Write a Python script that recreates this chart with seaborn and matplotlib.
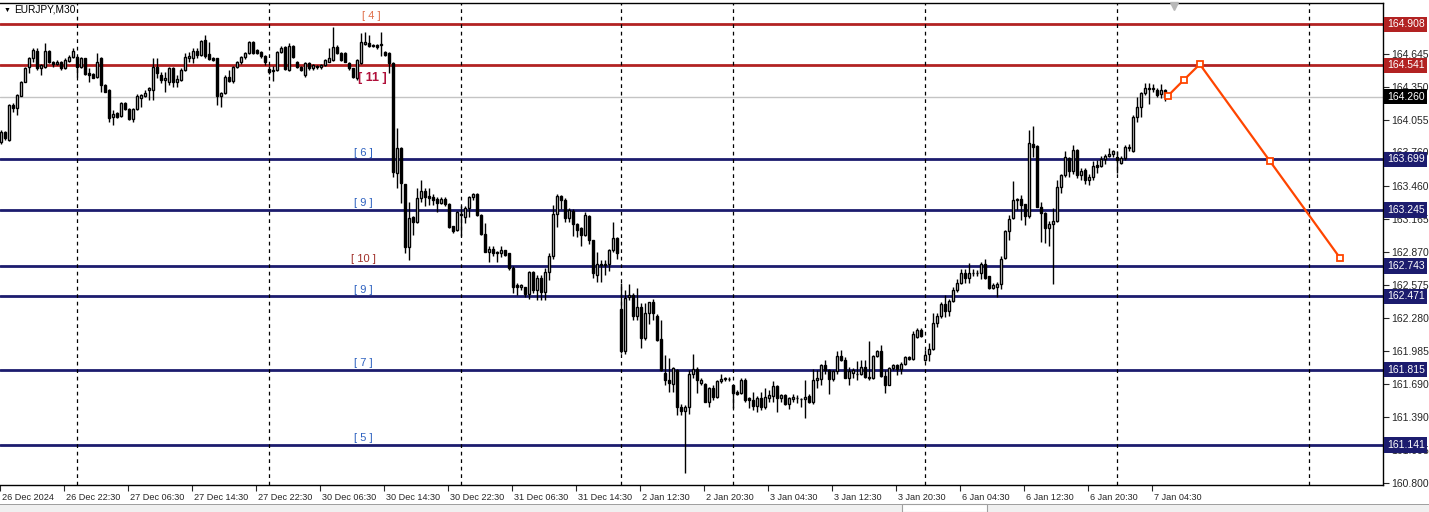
import matplotlib
matplotlib.use("Agg")
import matplotlib.pyplot as plt
import matplotlib.transforms as mtransforms
from matplotlib.patches import Rectangle
import seaborn as sns
import pandas as pd

sns.set_style("white")
plt.rcParams["font.family"] = ["Liberation Sans", "DejaVu Sans"]

# EURJPY M30 candles
opens = [
    163.851, 163.941, 163.872, 164.186, 164.156, 164.269, 164.395, 164.529, 164.603, 164.669,
    164.514, 164.529, 164.669, 164.574, 164.550, 164.568, 164.514, 164.580, 164.618, 164.618,
    164.529, 164.603, 164.469, 164.460, 164.439, 164.609, 164.365, 164.320, 164.081, 164.111,
    164.090, 164.200, 164.150, 164.060, 164.147, 164.251, 164.266, 164.320, 164.320, 164.529,
    164.454, 164.410, 164.395, 164.514, 164.389, 164.410, 164.499, 164.609, 164.609, 164.669,
    164.633, 164.768, 164.639, 164.609, 164.603, 164.265, 164.289, 164.440, 164.400, 164.528,
    164.573, 164.612, 164.647, 164.752, 164.677, 164.662, 164.624, 164.504, 164.490, 164.498,
    164.662, 164.707, 164.498, 164.713, 164.573, 164.528, 164.453, 164.558, 164.513, 164.534,
    164.522, 164.543, 164.573, 164.588, 164.707, 164.653, 164.647, 164.558, 164.513, 164.424,
    164.558, 164.731, 164.737, 164.722, 164.722, 164.722, 164.662, 164.653, 164.558, 163.580,
    163.800, 163.478, 162.910, 163.185, 163.140, 163.349, 163.415, 163.370, 163.364, 163.340,
    163.310, 163.340, 163.300, 163.100, 163.063, 163.210, 163.185, 163.260, 163.360, 163.390,
    163.200, 163.027, 162.870, 162.900, 162.870, 162.857, 162.887, 162.857, 162.730, 162.573,
    162.560, 162.558, 162.490, 162.687, 162.530, 162.640, 162.510, 162.690, 162.830, 163.210,
    163.370, 163.335, 163.170, 163.240, 163.120, 163.080, 163.020, 163.190, 162.976, 162.660,
    162.760, 162.750, 162.760, 162.887, 162.990, 162.356, 161.986, 162.470, 162.484, 162.300,
    162.380, 162.100, 162.320, 162.420, 162.300, 162.087, 161.790, 161.723, 161.690, 161.813,
    161.480, 161.445, 161.484, 161.780, 161.820, 161.700, 161.690, 161.530, 161.650, 161.570,
    161.710, 161.735, 161.730, 161.678, 161.620, 161.610, 161.720, 161.560, 161.540, 161.490,
    161.560, 161.480, 161.560, 161.580, 161.670, 161.560, 161.590, 161.510, 161.550, 161.560,
    161.550, 161.550, 161.580, 161.530, 161.720, 161.730, 161.860, 161.810, 161.730, 161.800,
    161.940, 161.900, 161.740, 161.790, 161.780, 161.780, 161.840, 161.750, 161.740, 161.940,
    161.980, 161.760, 161.680, 161.830, 161.860, 161.820, 161.870, 161.930, 161.910, 162.110,
    162.170, 161.900, 161.955, 162.000, 162.236, 162.296, 162.400, 162.343, 162.430, 162.530,
    162.594, 162.684, 162.640, 162.680, 162.684, 162.680, 162.760, 162.650, 162.550, 162.560,
    162.580, 162.818, 163.060, 163.170, 163.335, 163.340, 163.300, 163.190, 163.840, 163.820,
    163.275, 163.215, 163.080, 163.120, 163.150, 163.450, 163.558, 163.710, 163.590, 163.780,
    163.560, 163.600, 163.510, 163.540, 163.650, 163.640, 163.700, 163.730, 163.750, 163.716,
    163.670, 163.710, 163.800, 163.770, 164.080, 164.164, 164.295, 164.330, 164.330, 164.320,
    164.280, 164.320,
]
highs = [
    163.962, 163.953, 164.192, 164.200, 164.281, 164.401, 164.529, 164.618, 164.693, 164.693,
    164.550, 164.738, 164.678, 164.580, 164.589, 164.580, 164.603, 164.633, 164.693, 164.627,
    164.618, 164.609, 164.514, 164.469, 164.648, 164.618, 164.371, 164.329, 164.141, 164.120,
    164.216, 164.209, 164.156, 164.156, 164.284, 164.284, 164.320, 164.350, 164.603, 164.603,
    164.484, 164.484, 164.529, 164.529, 164.454, 164.514, 164.648, 164.663, 164.693, 164.693,
    164.768, 164.812, 164.753, 164.618, 164.609, 164.300, 164.450, 164.500, 164.530, 164.580,
    164.620, 164.660, 164.760, 164.760, 164.690, 164.670, 164.630, 164.530, 164.530, 164.670,
    164.710, 164.710, 164.737, 164.720, 164.580, 164.530, 164.570, 164.570, 164.550, 164.540,
    164.550, 164.600, 164.692, 164.886, 164.722, 164.660, 164.660, 164.570, 164.520, 164.600,
    164.827, 164.842, 164.812, 164.730, 164.730, 164.842, 164.670, 164.660, 164.570, 163.976,
    163.810, 163.480, 163.320, 163.190, 163.440, 163.513, 163.440, 163.440, 163.390, 163.360,
    163.360, 163.360, 163.310, 163.100, 163.240, 163.280, 163.280, 163.370, 163.400, 163.400,
    163.210, 163.125, 162.920, 162.920, 162.880, 162.920, 162.890, 162.860, 162.740, 162.590,
    162.580, 162.560, 162.700, 162.700, 162.660, 162.660, 162.730, 162.860, 163.290, 163.385,
    163.380, 163.350, 163.260, 163.250, 163.130, 163.090, 163.230, 163.200, 162.980, 162.870,
    162.800, 162.800, 162.900, 163.140, 163.000, 162.589, 162.530, 162.580, 162.500, 162.544,
    162.410, 162.410, 162.425, 162.450, 162.310, 162.260, 161.947, 161.920, 161.840, 161.820,
    161.510, 161.500, 161.810, 161.960, 161.840, 161.740, 161.700, 161.660, 161.680, 161.720,
    161.780, 161.750, 161.750, 161.680, 161.630, 161.740, 161.740, 161.570, 161.620, 161.580,
    161.620, 161.650, 161.630, 161.710, 161.680, 161.600, 161.600, 161.570, 161.600, 161.590,
    161.560, 161.720, 161.600, 161.820, 161.810, 161.870, 161.900, 161.820, 161.810, 161.980,
    161.990, 161.930, 161.840, 161.830, 161.890, 161.900, 161.900, 162.070, 161.950, 161.990,
    162.040, 161.810, 161.840, 161.870, 161.870, 161.880, 161.940, 161.940, 162.160, 162.190,
    162.190, 161.990, 162.050, 162.320, 162.320, 162.420, 162.480, 162.450, 162.560, 162.630,
    162.720, 162.720, 162.770, 162.720, 162.710, 162.780, 162.810, 162.650, 162.590, 162.600,
    162.830, 163.066, 163.200, 163.508, 163.350, 163.380, 163.300, 163.960, 164.000, 163.830,
    163.320, 163.230, 163.150, 163.260, 163.510, 163.570, 163.776, 163.720, 163.830, 163.790,
    163.620, 163.620, 163.570, 163.680, 163.690, 163.730, 163.750, 163.800, 163.780, 163.770,
    163.730, 163.830, 163.840, 164.095, 164.260, 164.300, 164.380, 164.380, 164.370, 164.340,
    164.370, 164.330,
]
lows = [
    163.833, 163.872, 163.863, 164.126, 164.096, 164.263, 164.389, 164.469, 164.574, 164.499,
    164.454, 164.514, 164.559, 164.529, 164.544, 164.499, 164.508, 164.574, 164.609, 164.439,
    164.520, 164.454, 164.395, 164.424, 164.430, 164.305, 164.299, 164.036, 164.007, 164.072,
    164.081, 164.141, 164.051, 164.036, 164.138, 164.171, 164.257, 164.230, 164.230, 164.424,
    164.380, 164.305, 164.365, 164.350, 164.350, 164.401, 164.490, 164.574, 164.559, 164.603,
    164.627, 164.603, 164.589, 164.580, 164.186, 164.164, 164.280, 164.390, 164.380, 164.520,
    164.550, 164.600, 164.640, 164.640, 164.640, 164.610, 164.540, 164.460, 164.400, 164.490,
    164.650, 164.500, 164.490, 164.610, 164.520, 164.490, 164.440, 164.500, 164.500, 164.510,
    164.510, 164.530, 164.570, 164.580, 164.640, 164.580, 164.570, 164.500, 164.430, 164.410,
    164.550, 164.720, 164.700, 164.700, 164.690, 164.620, 164.620, 164.470, 163.543, 163.439,
    163.310, 162.860, 162.800, 163.020, 163.130, 163.320, 163.280, 163.290, 163.290, 163.230,
    163.300, 163.280, 163.080, 163.040, 163.060, 163.010, 163.125, 163.180, 163.330, 163.190,
    163.020, 162.870, 162.780, 162.830, 162.780, 162.820, 162.830, 162.710, 162.500, 162.480,
    162.530, 162.470, 162.450, 162.500, 162.440, 162.440, 162.440, 162.620, 162.810, 163.095,
    163.250, 163.140, 163.140, 163.010, 163.000, 162.920, 163.010, 162.940, 162.633, 162.600,
    162.600, 162.660, 162.700, 162.870, 162.810, 161.962, 161.960, 162.440, 162.260, 162.260,
    162.010, 162.080, 162.220, 162.260, 162.070, 161.800, 161.678, 161.620, 161.620, 161.410,
    161.410, 160.887, 161.420, 161.740, 161.610, 161.680, 161.530, 161.480, 161.540, 161.560,
    161.700, 161.710, 161.710, 161.470, 161.590, 161.600, 161.530, 161.470, 161.450, 161.440,
    161.450, 161.460, 161.530, 161.530, 161.440, 161.530, 161.500, 161.460, 161.530, 161.520,
    161.480, 161.380, 161.520, 161.510, 161.650, 161.680, 161.780, 161.600, 161.710, 161.780,
    161.890, 161.740, 161.680, 161.740, 161.720, 161.770, 161.740, 161.720, 161.730, 161.930,
    161.750, 161.610, 161.680, 161.810, 161.770, 161.780, 161.860, 161.900, 161.900, 162.100,
    162.110, 161.890, 161.890, 161.990, 162.200, 162.280, 162.290, 162.300, 162.420, 162.510,
    162.580, 162.590, 162.590, 162.650, 162.650, 162.630, 162.630, 162.540, 162.540, 162.470,
    162.540, 162.810, 162.980, 163.160, 163.245, 163.156, 163.110, 163.170, 163.716, 163.270,
    162.960, 162.950, 162.920, 162.580, 163.140, 163.394, 163.540, 163.540, 163.570, 163.530,
    163.510, 163.480, 163.470, 163.510, 163.580, 163.630, 163.660, 163.720, 163.720, 163.580,
    163.660, 163.690, 163.770, 163.760, 164.030, 164.080, 164.270, 164.190, 164.300, 164.260,
    164.250, 164.225,
]
closes = [
    163.941, 163.887, 164.186, 164.156, 164.275, 164.395, 164.514, 164.603, 164.678, 164.514,
    164.544, 164.669, 164.574, 164.556, 164.574, 164.514, 164.589, 164.618, 164.669, 164.529,
    164.609, 164.460, 164.454, 164.430, 164.568, 164.365, 164.305, 164.072, 164.102, 164.081,
    164.200, 164.150, 164.060, 164.147, 164.266, 164.275, 164.290, 164.335, 164.529, 164.469,
    164.410, 164.430, 164.514, 164.395, 164.418, 164.499, 164.618, 164.627, 164.669, 164.633,
    164.759, 164.627, 164.598, 164.589, 164.269, 164.289, 164.439, 164.400, 164.528, 164.573,
    164.612, 164.647, 164.752, 164.647, 164.647, 164.624, 164.573, 164.483, 164.500, 164.662,
    164.692, 164.504, 164.713, 164.618, 164.528, 164.498, 164.558, 164.513, 164.543, 164.522,
    164.543, 164.588, 164.603, 164.707, 164.647, 164.588, 164.573, 164.513, 164.439, 164.588,
    164.752, 164.752, 164.713, 164.713, 164.707, 164.731, 164.633, 164.558, 163.588, 163.797,
    163.484, 162.910, 163.170, 163.140, 163.349, 163.415, 163.364, 163.350, 163.334, 163.310,
    163.340, 163.300, 163.095, 163.060, 163.230, 163.200, 163.260, 163.364, 163.385, 163.200,
    163.027, 162.872, 162.900, 162.860, 162.860, 162.887, 162.842, 162.722, 162.558, 162.558,
    162.570, 162.493, 162.687, 162.528, 162.640, 162.510, 162.690, 162.830, 163.210, 163.370,
    163.335, 163.170, 163.245, 163.120, 163.066, 163.020, 163.200, 162.976, 162.678, 162.760,
    162.750, 162.760, 162.887, 162.990, 162.860, 161.986, 162.454, 162.484, 162.300, 162.380,
    162.100, 162.320, 162.420, 162.320, 162.081, 161.813, 161.723, 161.693, 161.827, 161.480,
    161.445, 161.484, 161.780, 161.820, 161.720, 161.720, 161.530, 161.650, 161.570, 161.710,
    161.730, 161.740, 161.730, 161.610, 161.600, 161.720, 161.540, 161.540, 161.490, 161.560,
    161.480, 161.570, 161.590, 161.670, 161.560, 161.590, 161.510, 161.560, 161.570, 161.560,
    161.550, 161.570, 161.530, 161.720, 161.740, 161.860, 161.810, 161.730, 161.800, 161.940,
    161.900, 161.740, 161.800, 161.810, 161.780, 161.840, 161.750, 161.740, 161.940, 161.980,
    161.760, 161.680, 161.830, 161.860, 161.820, 161.870, 161.930, 161.910, 162.135, 162.170,
    162.120, 161.950, 161.997, 162.236, 162.296, 162.400, 162.343, 162.430, 162.530, 162.594,
    162.684, 162.633, 162.680, 162.684, 162.680, 162.760, 162.640, 162.550, 162.570, 162.580,
    162.810, 163.057, 163.160, 163.334, 163.340, 163.290, 163.190, 163.842, 163.806, 163.275,
    163.215, 163.080, 163.120, 163.150, 163.454, 163.558, 163.716, 163.590, 163.780, 163.558,
    163.590, 163.510, 163.540, 163.640, 163.630, 163.700, 163.730, 163.750, 163.770, 163.690,
    163.710, 163.806, 163.810, 164.081, 164.164, 164.295, 164.334, 164.335, 164.335, 164.275,
    164.320, 164.260,
]

# horizontal levels and their tags
level_prices = [164.908, 164.541, 163.699, 163.245, 162.743, 162.471, 161.815, 161.141]
level_tags = ["[ 4 ]", "[ 11 ]", "[ 6 ]", "[ 9 ]", "[ 10 ]", "[ 9 ]", "[ 7 ]", "[ 5 ]"]
current_price = 164.260

# forecast path (bar index, price)
forecast_bars = [291.7, 295.7, 299.7, 317.2, 334.7]
forecast_prices = [164.266, 164.409, 164.550, 163.684, 162.818]

# day separators (bar index)
separator_bars = [19, 67, 115, 155, 183, 231, 279, 327]

time_labels = ["26 Dec 2024", "26 Dec 22:30", "27 Dec 06:30", "27 Dec 14:30", "27 Dec 22:30",
               "30 Dec 06:30", "30 Dec 14:30", "30 Dec 22:30", "31 Dec 06:30", "31 Dec 14:30",
               "2 Jan 12:30", "2 Jan 20:30", "3 Jan 04:30", "3 Jan 12:30", "3 Jan 20:30",
               "6 Jan 04:30", "6 Jan 12:30", "6 Jan 20:30", "7 Jan 04:30"]
price_ticks = [164.645, 164.350, 164.055, 163.760, 163.460, 163.165, 162.870,
               162.575, 162.280, 161.985, 161.690, 161.390, 161.095, 160.800]

df = pd.DataFrame({"open": opens, "high": highs, "low": lows, "close": closes})
df["bar"] = range(len(df))
bull = df[df.close >= df.open]
bear = df[df.close < df.open]

W, H = 1429, 512
fig = plt.figure(figsize=(W / 100, H / 100), dpi=100)
fig.patch.set_facecolor("white")
ax = fig.add_axes([0, 27 / H, 1383 / W, 482 / H])
ax.set_facecolor("white")

red = "#b22222"
navy = "#1c1c6e"

# levels
for i, p in enumerate(level_prices):
    c = red if i < 2 else navy
    ax.axhline(p, color=c, lw=2, zorder=1)
ax.axhline(current_price, color="#c4c4c4", lw=1, zorder=1)

# separators
for b in separator_bars:
    ax.axvline(b, color="black", lw=0.9, ls=(0, (3, 3)), zorder=1)

# candles
ax.vlines(df.bar, df.low, df.high, color="black", lw=1, zorder=2)
ax.bar(bull.bar, bull.close - bull.open, bottom=bull.open, width=0.5,
       facecolor="white", edgecolor="black", linewidth=1, zorder=3)
ax.bar(bear.bar, bear.close - bear.open, bottom=bear.open, width=0.5,
       facecolor="black", edgecolor="black", linewidth=1, zorder=3)

# forecast
sns.lineplot(x=forecast_bars, y=forecast_prices, ax=ax, color="#ff4500", lw=1.6,
             marker="s", markersize=5, markerfacecolor="white",
             markeredgecolor="#ff4500", markeredgewidth=1.3, zorder=5)

# level tags
tag_style = {
    "[ 4 ]": dict(x=92.5, y=164.908 + 0.03, va="bottom", color="#e0704a", weight="normal", size=8),
    "[ 11 ]": dict(x=92.8, y=164.48, va="top", color="#b0103a", weight="bold", size=9),
    "[ 10 ]": dict(x=90.5, y=162.743 + 0.015, va="bottom", color="#a0302a", weight="normal", size=8),
}
for p, t in zip(level_prices, level_tags):
    st = tag_style.get(t, dict(x=90.5, y=p + 0.015, va="bottom", color="#2f62c0",
                               weight="normal", size=8))
    ax.text(st["x"], st["y"], t, ha="center", va=st["va"], color=st["color"],
            fontsize=st["size"], fontweight=st["weight"], zorder=4)

ax.set_xlim(-0.25, 345.5)
ax.set_ylim(160.783, 165.098)

# y axis on the right
ax.yaxis.tick_right()
ax.set_yticks(price_ticks)
ax.set_yticklabels([f"{p:.3f}" for p in price_ticks])
ax.tick_params(axis="y", direction="out", length=4, width=0.8, pad=2, labelsize=7.5,
               right=True, left=False)

# x axis
xt = [16 * i - 0.25 for i in range(len(time_labels))]
ax.set_xticks(xt)
ax.set_xticklabels(time_labels, ha="left")
ax.tick_params(axis="x", direction="out", length=4, width=0.8, pad=2, labelsize=6.6,
               bottom=True)
offset = mtransforms.ScaledTranslation(2 / 100, 0, fig.dpi_scale_trans)
for lab in ax.get_xticklabels():
    lab.set_transform(lab.get_transform() + offset)

for s in ax.spines.values():
    s.set_color("black")
    s.set_linewidth(1)
ax.spines["left"].set_visible(False)
ax.grid(False)

# boxed price labels on the right axis
ytr = ax.get_yaxis_transform()
for i, p in enumerate(level_prices):
    c = red if i < 2 else navy
    ax.text(1.0 + 4 / 1383, p, f"{p:.3f}", transform=ytr, ha="left", va="center",
            color="white", fontsize=7.5, clip_on=False, zorder=6,
            bbox=dict(boxstyle="square,pad=0.25", fc=c, ec="none"))
ax.text(1.0 + 4 / 1383, current_price, f"{current_price:.3f}", transform=ytr, ha="left",
        va="center", color="white", fontsize=7.5, clip_on=False, zorder=6,
        bbox=dict(boxstyle="square,pad=0.25", fc="black", ec="none"))

# chart shift marker
ax.plot([293.3], [165.075], marker="v", color="#b8b8b8", ms=6, clip_on=False, zorder=6)

# title
fig.text(4 / W, 1 - 10 / H, "▼", fontsize=5, va="center", ha="left", color="black")
fig.text(14 / W, 1 - 10 / H, "EURJPY,M30", fontsize=7.3, va="center", ha="left", color="black")

# bottom tab strip
fig.patches.append(Rectangle((0, 0), 1, 7 / H, transform=fig.transFigure,
                             facecolor="#f0f0f0", edgecolor="none"))
fig.patches.append(Rectangle((0, 7 / H), 1, 1 / H, transform=fig.transFigure,
                             facecolor="#a0a0a0", edgecolor="none"))
fig.patches.append(Rectangle((902 / W, 0), 85 / W, 8 / H, transform=fig.transFigure,
                             facecolor="white", edgecolor="#a0a0a0", lw=0.8))

fig.savefig("out.png", dpi=100)
